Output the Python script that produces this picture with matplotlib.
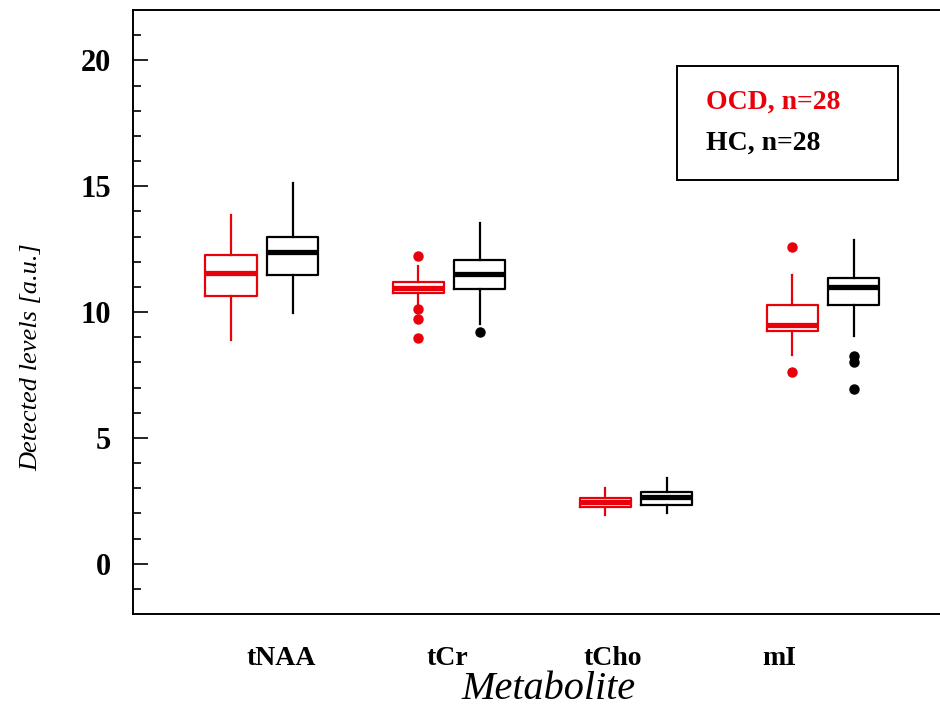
import matplotlib.pyplot as plt
from matplotlib.patches import Rectangle

# values
metabolites = ['tNAA', 'tCr', 'tCho', 'mI']

ocd_whislo = [8.87, 10.30, 1.94, 8.28]
ocd_q1 = [10.65, 10.77, 2.26, 9.23]
ocd_med = [11.56, 10.97, 2.46, 9.50]
ocd_q3 = [12.28, 11.20, 2.61, 10.26]
ocd_whishi = [13.86, 11.84, 3.01, 11.49]
ocd_fliers = [[], [12.24, 10.10, 9.74, 8.95], [], [12.60, 7.60]]

hc_whislo = [9.98, 9.54, 2.02, 9.03]
hc_q1 = [11.49, 10.93, 2.34, 10.26]
hc_med = [12.40, 11.52, 2.65, 11.01]
hc_q3 = [13.00, 12.08, 2.85, 11.37]
hc_whishi = [15.13, 13.54, 3.40, 12.87]
hc_fliers = [[], [9.19], [], [8.24, 8.00, 6.93]]

group_labels = ['OCD, n=28', 'HC, n=28']
group_colors = ['#e8000b', 'black']

plt.rcParams['font.family'] = ['Liberation Serif', 'DejaVu Serif']

fig = plt.figure(figsize=(9.4, 7.1), dpi=100)
ax = fig.add_axes([0.1415, 0.1352, 0.8585, 0.8507])


def make_stats(lo, q1, med, q3, hi, fl):
    return [dict(whislo=lo[i], q1=q1[i], med=med[i], q3=q3[i], whishi=hi[i],
                 fliers=fl[i]) for i in range(len(lo))]


pos = [1, 2, 3, 4]
offset = 0.33
width = 0.273
groups = [
    (make_stats(ocd_whislo, ocd_q1, ocd_med, ocd_q3, ocd_whishi, ocd_fliers), 0.0),
    (make_stats(hc_whislo, hc_q1, hc_med, hc_q3, hc_whishi, hc_fliers), offset),
]
for (stats, off), col in zip(groups, group_colors):
    ax.bxp(stats, positions=[p + off for p in pos], widths=width,
           showcaps=False, patch_artist=False, manage_ticks=False,
           boxprops=dict(color=col, linewidth=1.6),
           whiskerprops=dict(color=col, linewidth=1.6),
           medianprops=dict(color=col, linewidth=3.8, solid_capstyle='butt'),
           flierprops=dict(marker='o', markerfacecolor=col, markeredgecolor=col,
                           markersize=6.5, linestyle='none'))

ax.set_xlim(0.476, 4.79)
ax.set_ylim(-2, 22)
ax.set_yticks([0, 5, 10, 15, 20])
ax.set_yticks(range(-1, 22), minor=True)
ax.tick_params(axis='y', which='major', direction='in', length=11, width=1.2,
               pad=16, labelsize=22)
ax.tick_params(axis='y', which='minor', direction='in', length=6, width=1.2)
for lab in ax.get_yticklabels():
    lab.set_fontweight('bold')

ax.set_xticks([1.267, 2.155, 3.043, 3.93])
ax.set_xticklabels(metabolites, fontsize=20, fontweight='bold')
ax.tick_params(axis='x', length=0, pad=23)

ax.spines['right'].set_visible(False)
for s in ['left', 'top', 'bottom']:
    ax.spines[s].set_linewidth(1.4)

ax.set_ylabel('Detected levels [a.u.]', fontsize=19, style='italic')
ax.yaxis.set_label_coords(-0.112, 0.425)
ax.set_xlabel('Metabolite', fontsize=29, style='italic')
ax.xaxis.set_label_coords(0.515, -0.094)

# legend box
fig.patches.append(Rectangle((0.720, 0.7465), 0.235, 0.1606, transform=fig.transFigure,
                             fill=False, edgecolor='black', linewidth=1.4))
fig.text(0.751, 0.856, group_labels[0], color=group_colors[0], fontsize=20,
         fontweight='bold', va='center')
fig.text(0.751, 0.7986, group_labels[1], color=group_colors[1], fontsize=20,
         fontweight='bold', va='center')

fig.savefig('out.png', dpi=100)
